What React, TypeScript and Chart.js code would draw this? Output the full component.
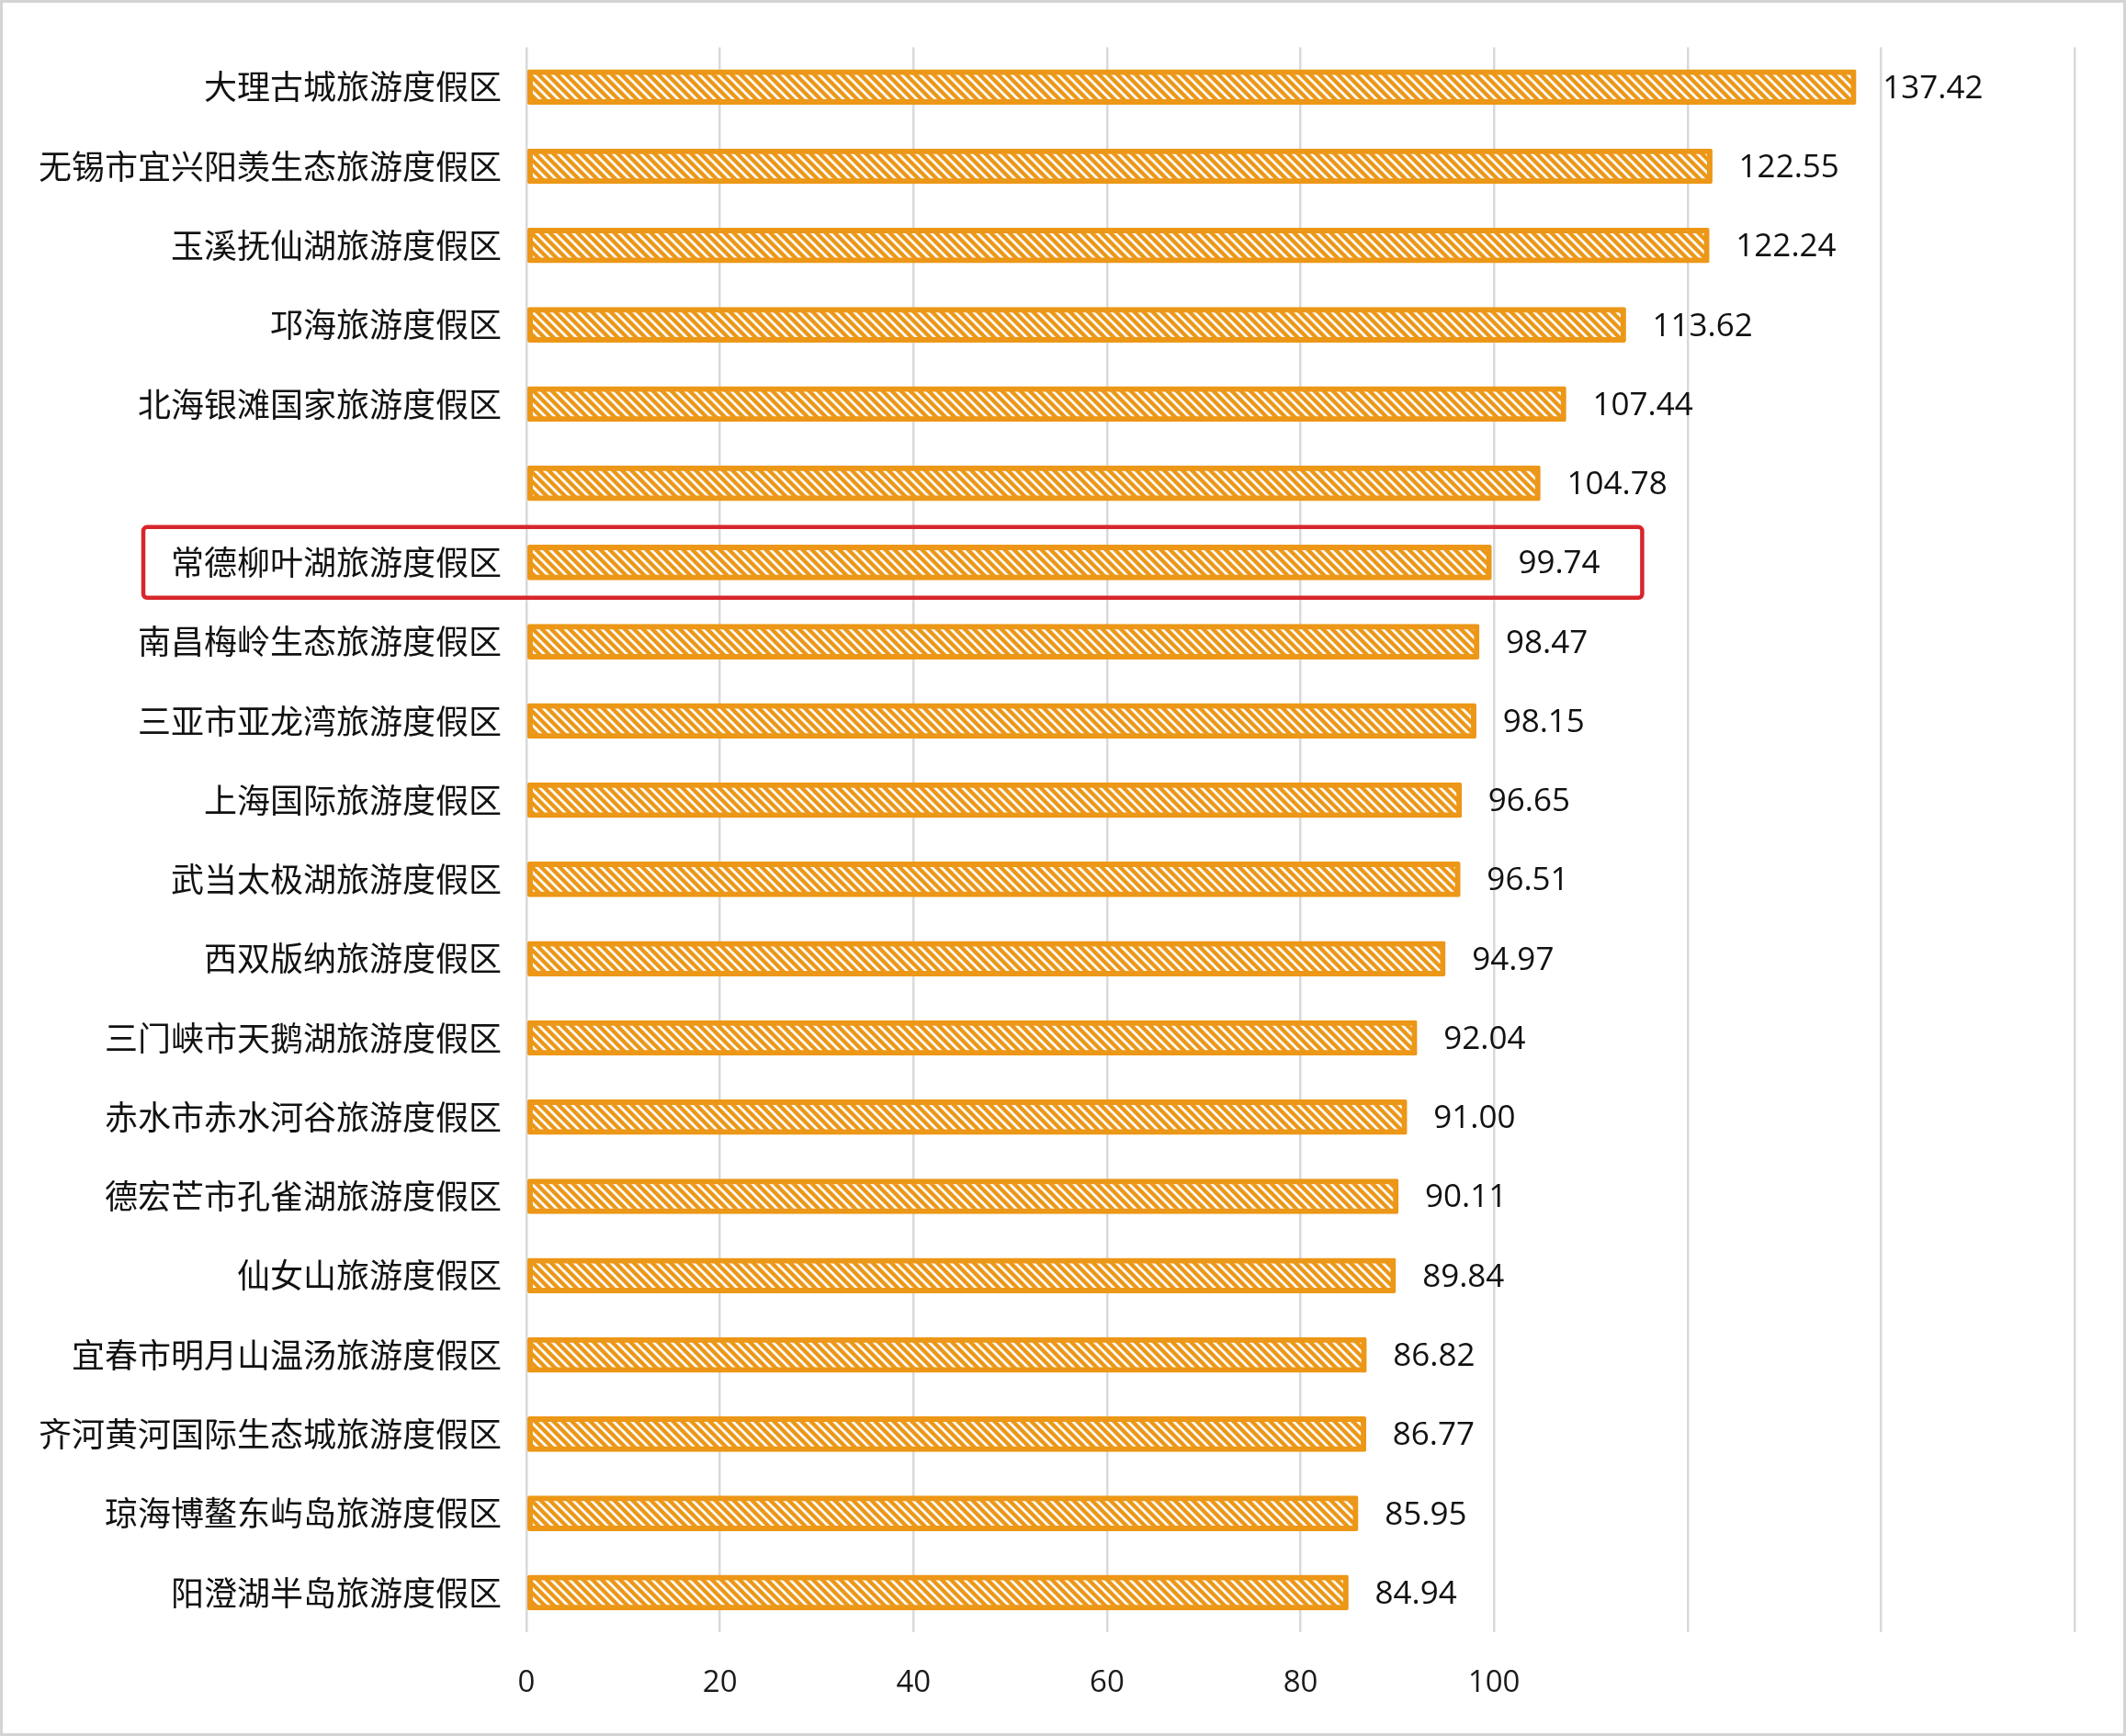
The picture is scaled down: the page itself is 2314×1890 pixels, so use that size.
import { useEffect, useRef } from "react";
import { Chart, registerables } from "chart.js";
Chart.register(...registerables);

// categories, top to bottom (6th label is erased in the source picture)
const resorts = [
    "大理古城旅游度假区",
    "无锡市宜兴阳羡生态旅游度假区",
    "玉溪抚仙湖旅游度假区",
    "邛海旅游度假区",
    "北海银滩国家旅游度假区",
    "",
    "常德柳叶湖旅游度假区",
    "南昌梅岭生态旅游度假区",
    "三亚市亚龙湾旅游度假区",
    "上海国际旅游度假区",
    "武当太极湖旅游度假区",
    "西双版纳旅游度假区",
    "三门峡市天鹅湖旅游度假区",
    "赤水市赤水河谷旅游度假区",
    "德宏芒市孔雀湖旅游度假区",
    "仙女山旅游度假区",
    "宜春市明月山温汤旅游度假区",
    "齐河黄河国际生态城旅游度假区",
    "琼海博鳌东屿岛旅游度假区",
    "阳澄湖半岛旅游度假区",
];
const scores = [
    137.42, 122.55, 122.24, 113.62, 107.44, 104.78, 99.74, 98.47, 98.15, 96.65,
    96.51, 94.97, 92.04, 91.0, 90.11, 89.84, 86.82, 86.77, 85.95, 84.94,
];
const highlighted = "常德柳叶湖旅游度假区";
const xTickMax = 100; // labels beyond this are not shown
const xMax = 160;

const ORANGE = "#EC9717";

function makeHatch(ctx: CanvasRenderingContext2D) {
    const s = 10;
    const c = document.createElement("canvas");
    c.width = s;
    c.height = s;
    const g = c.getContext("2d")!;
    g.fillStyle = ORANGE;
    g.fillRect(0, 0, s, s);
    g.strokeStyle = "#ffffff";
    g.lineWidth = 2.8;
    g.beginPath();
    g.moveTo(-s, -s);
    g.lineTo(2 * s, 2 * s);
    g.moveTo(0, -s);
    g.lineTo(2 * s, s);
    g.moveTo(-s, 0);
    g.lineTo(s, 2 * s);
    g.stroke();
    return ctx.createPattern(c, "repeat")!;
}

const valueLabels = {
    id: "valueLabels",
    afterDatasetsDraw(chart: any) {
        const ctx = chart.ctx;
        const meta = chart.getDatasetMeta(0);
        ctx.save();
        ctx.font = '35px "Open Sans", "Noto Sans", sans-serif';
        ctx.fillStyle = "#111";
        ctx.textAlign = "left";
        ctx.textBaseline = "middle";
        meta.data.forEach((bar: any, i: number) => {
            ctx.fillText(scores[i].toFixed(2), bar.x + 29, bar.y + 2);
        });
        ctx.restore();
    },
};

const highlightBox = {
    id: "highlightBox",
    afterDraw(chart: any) {
        const i = resorts.indexOf(highlighted);
        if (i < 0) return;
        const ctx = chart.ctx;
        const y = chart.scales.y.getPixelForValue(i);
        const left = chart.chartArea.left - 417;
        const right = chart.scales.x.getPixelForValue(scores[i]) + 164;
        const h = 77;
        ctx.save();
        ctx.strokeStyle = "#D7262B";
        ctx.lineWidth = 4.5;
        ctx.beginPath();
        ctx.roundRect(left, y - h / 2, right - left, h, 4);
        ctx.stroke();
        ctx.restore();
    },
};

const App = () => {
    const chartRef = useRef<HTMLCanvasElement | null>(null);
    const chartInstance = useRef<Chart | null>(null);

    useEffect(() => {
        document.body.style.margin = "0";
        if (!chartRef.current) return;
        const ctx = chartRef.current.getContext("2d");
        if (!ctx) return;
        if (chartInstance.current) chartInstance.current.destroy();

        chartInstance.current = new Chart(ctx, {
            type: "bar",
            data: {
                labels: resorts,
                datasets: [
                    {
                        data: scores,
                        backgroundColor: makeHatch(ctx),
                        borderColor: ORANGE,
                        borderWidth: 6,
                        borderRadius: 2,
                        borderSkipped: false,
                        barThickness: 38,
                    },
                ],
            },
            options: {
                indexAxis: "y",
                responsive: false,
                animation: false,
                layout: { padding: { top: 48, right: 53, left: 0, bottom: 0 } },
                plugins: {
                    legend: { display: false },
                    tooltip: { enabled: false },
                },
                scales: {
                    x: {
                        min: 0,
                        max: xMax,
                        border: { display: false },
                        grid: { color: "#D9D9D9", lineWidth: 2.5, drawTicks: false },
                        ticks: {
                            stepSize: 20,
                            padding: 36,
                            color: "#1a1a1a",
                            font: { family: '"Open Sans", "Noto Sans", sans-serif', size: 33 },
                            callback: (v: any) => (Number(v) <= xTickMax ? String(v) : ""),
                        },
                        afterFit: (scale: any) => {
                            scale.height = 110;
                        },
                    },
                    y: {
                        border: { display: false },
                        grid: { display: false, drawTicks: false },
                        ticks: {
                            padding: 27,
                            color: "#111",
                            font: { family: '"Noto Sans CJK SC", sans-serif', size: 36 },
                        },
                        afterFit: (scale: any) => {
                            scale.width = 570;
                        },
                    },
                },
            },
            plugins: [valueLabels, highlightBox],
        });

        return () => {
            if (chartInstance.current) {
                chartInstance.current.destroy();
                chartInstance.current = null;
            }
        };
    }, []);

    return (
        <div
            style={{
                width: 2314,
                height: 1890,
                boxSizing: "border-box",
                border: "3px solid #D4D4D4",
                background: "#fff",
            }}
        >
            <canvas ref={chartRef} width={2308} height={1884}></canvas>
        </div>
    );
};

export default App;
